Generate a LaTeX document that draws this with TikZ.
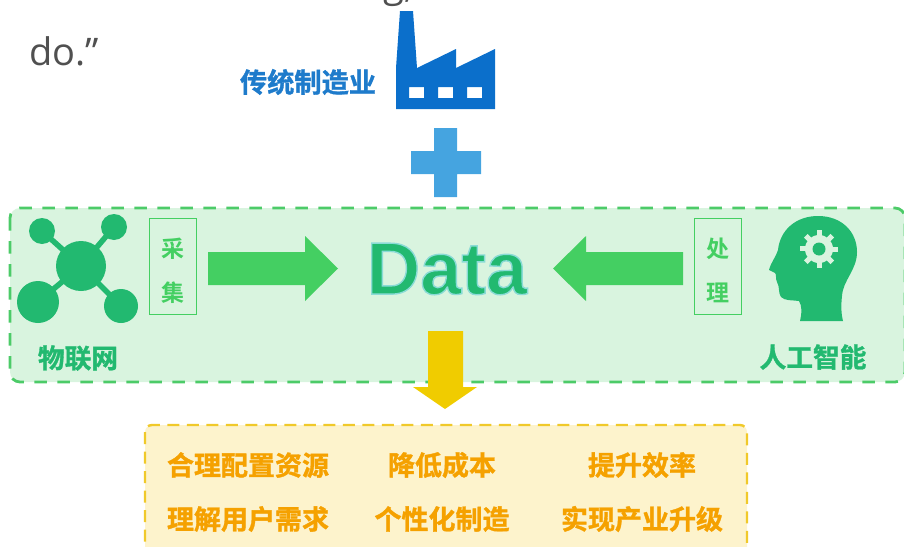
\documentclass[tikz,border=0pt]{standalone}
\usepackage{fontspec}
\setmainfont{Open Sans}
\newfontfamily\cjkb[FakeBold=1.2]{Noto Sans CJK SC Bold}
\newfontfamily\cjkm{Noto Sans CJK SC Bold}
\newfontfamily\latb{Liberation Sans Bold}
\definecolor{fblue}{HTML}{0B6FCB}
\definecolor{tblue}{HTML}{1E7BCB}
\definecolor{pblue}{HTML}{45A4E0}
\definecolor{gpanel}{HTML}{D9F4DF}
\definecolor{gdash}{HTML}{4CCB68}
\definecolor{garrow}{HTML}{44CF62}
\definecolor{gicon}{HTML}{22B970}
\definecolor{ypanel}{HTML}{FDF3CC}
\definecolor{ydash}{HTML}{F0C92A}
\definecolor{yarrow}{HTML}{F0CC00}
\definecolor{otext}{HTML}{F5A100}
\definecolor{gtxt}{HTML}{505050}
\tikzset{
  panelg/.style={draw=gdash,fill=gpanel,line width=2.8pt,dash pattern=on 12.5pt off 10.5pt,rounded corners=10pt},
  panely/.style={draw=ydash,fill=ypanel,line width=2.4pt,dash pattern=on 12pt off 7.5pt,rounded corners=7pt},
  tagbox/.style={draw=garrow,line width=1pt,minimum width=47pt,minimum height=96pt,inner sep=0pt},
  tagtxt/.style={text=garrow,font=\cjkm\fontsize{23}{23}\selectfont,inner sep=0pt},
  glabel/.style={text=gicon,font=\cjkb\fontsize{26.7}{26.7}\selectfont,inner sep=0pt,anchor=center},
  olabel/.style={text=otext,font=\cjkb\fontsize{27}{27}\selectfont,inner sep=0pt,anchor=center},
  datatxt/.style={font=\latb\fontsize{74}{74}\selectfont,inner sep=0pt},
  icon/.style={fill=gicon,draw=none},
  spoke/.style={draw=gicon,line width=5.5pt}
}
\begin{document}
\begin{tikzpicture}[x=1pt,y=-1pt]
\useasboundingbox (0,0) rectangle (904,546);
% clipped fragments of surrounding page text
\node[text=gtxt,font=\fontsize{38}{38}\selectfont,anchor=base west,inner sep=0pt] (doq) at (29,65) {do.”};
\begin{scope}
\clip (340,0) rectangle (420,10);
\node[text=gtxt,font=\fontsize{38}{38}\selectfont,anchor=base west,inner sep=0pt] (gfrag) at (383,-2) {g,};
\end{scope}
% factory
\node[text=tblue,font=\cjkb\fontsize{27.2}{27.2}\selectfont,inner sep=0pt] (trad) at (308,82) {传统制造业};
\fill[fblue,even odd rule] (400,11) -- (413,11) -- (417,68) -- (456,49) -- (456,68) -- (495,49) -- (495,109) -- (396,109) -- (396,68) -- cycle
 (409,87) rectangle (424,98) (438,87) rectangle (453,98) (467,87) rectangle (482,98);
% plus
\fill[pblue] (434,128) -- (457,128) -- (457,151) -- (481,151) -- (481,174) -- (457,174) -- (457,197) -- (434,197) -- (434,174) -- (411,174) -- (411,151) -- (434,151) -- cycle;
% green panel
\path[panelg] (10,208) rectangle (905,382);
% IoT icon
\draw[spoke] (81,266) -- (42,231) (81,266) -- (114,227) (81,266) -- (38,302) (81,266) -- (121,306);
\fill[icon] (81,266) circle (25);
\fill[icon] (42,231) circle (13);
\fill[icon] (114,227) circle (13);
\fill[icon] (38,302) circle (21);
\fill[icon] (121,306) circle (17);
\node[glabel] (iot) at (78,358) {物联网};
% collect box
\node[tagbox] (cbox) at (173,266) {};
\node[tagtxt] (c1) at (173,249) {采};
\node[tagtxt] (c2) at (173,293) {集};
% right arrow
\fill[garrow] (208,252) -- (305,252) -- (305,236) -- (338,268.5) -- (305,301) -- (305,285) -- (208,285) -- cycle;
% data
\node[datatxt,text=gicon] (data) at (447,269) {\special{pdf:code 2 Tr 1.4 w 0.54 0.86 0.84 RG}Data\special{pdf:code 0 Tr}};
% left arrow
\fill[garrow] (683,252) -- (586,252) -- (586,236) -- (553,268.5) -- (586,301) -- (586,285) -- (683,285) -- cycle;
% process box
\node[tagbox] (pbox) at (718,266) {};
\node[tagtxt] (p1) at (718,249) {处};
\node[tagtxt] (p2) at (718,293) {理};
% head icon
\fill[icon] (800,321) .. controls (802,312) and (802,306) .. (799,301)
 .. controls (792,300) and (785,301) .. (781,297)
 .. controls (778,293) and (780,287) .. (777,282)
 .. controls (775,278) and (777,275) .. (775,273)
 -- (769,270) .. controls (771,262) and (776,257) .. (778,250)
 .. controls (780,230) and (796,216) .. (818,216)
 .. controls (842,216) and (857,232) .. (857,252)
 .. controls (857,270) and (843,280) .. (842,296)
 .. controls (841,305) and (841,313) .. (843,321) -- cycle;
\fill[gpanel] (819,249) circle (14);
\foreach \a in {0,45,...,315}{\fill[gpanel] (819,249) ++(\a-12:12) -- ++(\a+90:5) -- ++(\a:7) -- ++(\a-90:5) -- cycle;}
\fill[icon] (819,249) circle (6.5);
\node[glabel] (ai) at (813,357) {人工智能};
% yellow panel
\path[panely] (145,425) rectangle (747,560);
% yellow arrow
\fill[yarrow] (428,331) -- (463,331) -- (463,387) -- (477,387) -- (445,409) -- (413,387) -- (428,387) -- cycle;
% outcomes
\node[olabel] (o1) at (248,465) {合理配置资源};
\node[olabel] (o2) at (442,465) {降低成本};
\node[olabel] (o3) at (642,465) {提升效率};
\node[olabel] (o4) at (248,519) {理解用户需求};
\node[olabel] (o5) at (442,519) {个性化制造};
\node[olabel] (o6) at (642,519) {实现产业升级};
\end{tikzpicture}
\end{document}
